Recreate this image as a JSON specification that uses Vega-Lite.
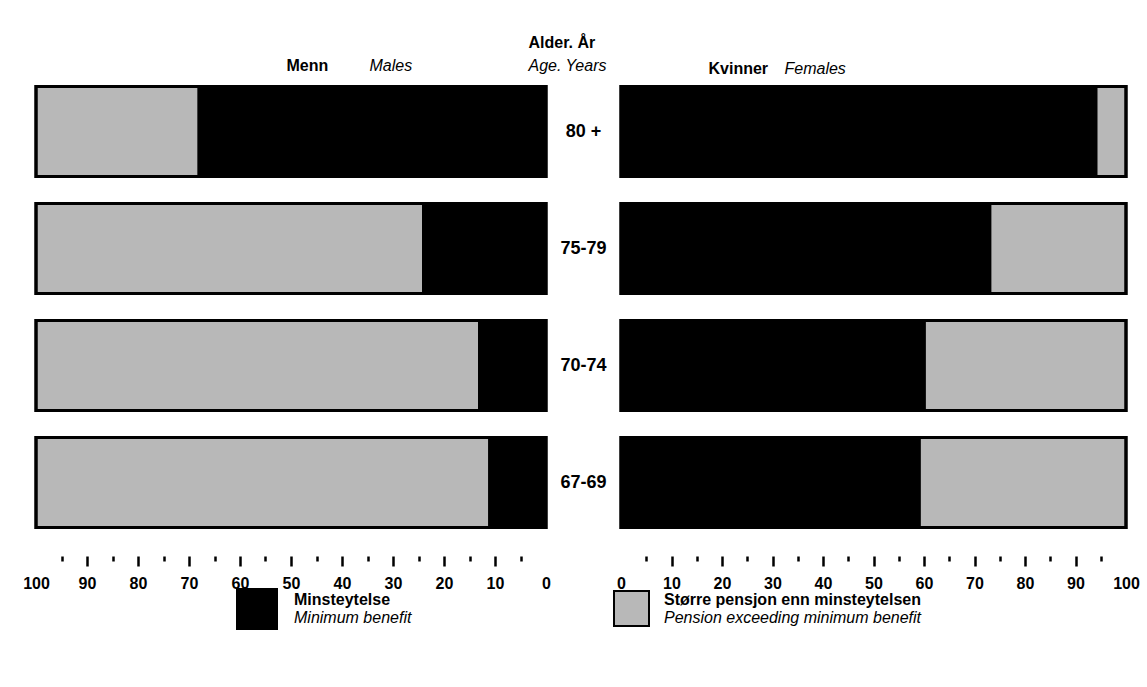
{
  "$schema": "https://vega.github.io/schema/vega-lite/v6.json",
  "padding": {"left": 22, "top": 34, "right": 0, "bottom": 0},
  "autosize": {"type": "pad"},
  "background": "white",
  "bounds": "flush",
  "spacing": 75,
  "datasets": {
    "men": [
      {"age": "80 +", "type": "Minsteytelse", "type_en": "Minimum benefit", "pct": 68},
      {"age": "80 +", "type": "Større pensjon enn minsteytelsen", "type_en": "Pension exceeding minimum benefit", "pct": 32},
      {"age": "75-79", "type": "Minsteytelse", "type_en": "Minimum benefit", "pct": 24},
      {"age": "75-79", "type": "Større pensjon enn minsteytelsen", "type_en": "Pension exceeding minimum benefit", "pct": 76},
      {"age": "70-74", "type": "Minsteytelse", "type_en": "Minimum benefit", "pct": 13},
      {"age": "70-74", "type": "Større pensjon enn minsteytelsen", "type_en": "Pension exceeding minimum benefit", "pct": 87},
      {"age": "67-69", "type": "Minsteytelse", "type_en": "Minimum benefit", "pct": 11},
      {"age": "67-69", "type": "Større pensjon enn minsteytelsen", "type_en": "Pension exceeding minimum benefit", "pct": 89}
    ],
    "women": [
      {"age": "80 +", "type": "Minsteytelse", "type_en": "Minimum benefit", "pct": 94},
      {"age": "80 +", "type": "Større pensjon enn minsteytelsen", "type_en": "Pension exceeding minimum benefit", "pct": 6},
      {"age": "75-79", "type": "Minsteytelse", "type_en": "Minimum benefit", "pct": 73},
      {"age": "75-79", "type": "Større pensjon enn minsteytelsen", "type_en": "Pension exceeding minimum benefit", "pct": 27},
      {"age": "70-74", "type": "Minsteytelse", "type_en": "Minimum benefit", "pct": 60},
      {"age": "70-74", "type": "Større pensjon enn minsteytelsen", "type_en": "Pension exceeding minimum benefit", "pct": 40},
      {"age": "67-69", "type": "Minsteytelse", "type_en": "Minimum benefit", "pct": 59},
      {"age": "67-69", "type": "Større pensjon enn minsteytelsen", "type_en": "Pension exceeding minimum benefit", "pct": 41}
    ]
  },
  "resolve": {
    "scale": {"x": "independent", "y": "independent", "fill": "independent", "stroke": "independent"},
    "legend": {"fill": "independent", "stroke": "independent"}
  },
  "hconcat": [
    {
      "width": 510,
      "height": 468,
      "data": {"name": "men"},
      "resolve": {"axis": {"x": "independent", "y": "independent"}},
      "layer": [
        {
          "mark": {"type": "bar", "stroke": "black", "strokeWidth": 3},
          "encoding": {
            "x": {
              "field": "pct", "type": "quantitative", "stack": "zero",
              "scale": {"domain": [0, 100], "reverse": true, "nice": false},
              "axis": {
                "orient": "bottom", "offset": 15, "domain": false, "grid": false,
                "values": [0, 5, 10, 15, 20, 25, 30, 35, 40, 45, 50, 55, 60, 65, 70, 75, 80, 85, 90, 95, 100],
                "labelExpr": "datum.value % 10 == 0 ? datum.label : ''",
                "labelFlush": false, "labelOverlap": false, "labelBound": false,
                "tickSize": {"condition": {"test": "datum.value % 10 == 0", "value": 10}, "value": 5},
                "tickOpacity": {"condition": {"test": "datum.value == 0 || datum.value == 100", "value": 0}, "value": 1},
                "tickWidth": 2.5, "tickColor": "black",
                "labelPadding": 9, "labelFontSize": 16, "labelFontWeight": "bold", "labelColor": "black",
                "title": "Menn", "titleFontSize": 16, "titleFontWeight": "bold", "titleColor": "black",
                "titleX": 250, "titleY": -491, "titleAlign": "left", "titleBaseline": "middle"
              }
            },
            "y": {
              "field": "age", "type": "nominal", "sort": ["80 +", "75-79", "70-74", "67-69"],
              "scale": {"paddingInner": 0.23, "paddingOuter": 0.115},
              "axis": {
                "orient": "right", "domain": false, "ticks": false, "tickSize": 0, "grid": false,
                "labelPadding": 37, "labelAlign": "center", "labelFontSize": 18, "labelFontWeight": "bold", "labelColor": "black",
                "title": "Alder. År", "titleAngle": 0, "titleFontSize": 16, "titleFontWeight": "bold", "titleColor": "black",
                "titleX": -18, "titleY": -31, "titleAlign": "left", "titleBaseline": "middle"
              }
            },
            "fill": {
              "field": "type", "type": "nominal",
              "scale": {"domain": ["Minsteytelse", "Større pensjon enn minsteytelsen"], "range": ["black", "#b8b8b8"]},
              "legend": {
                "orient": "none", "legendX": 200, "legendY": 515, "title": null, "padding": 0,
                "values": ["Minsteytelse"], "symbolType": "square", "symbolSize": 1600,
                "symbolStrokeColor": "black", "symbolStrokeWidth": 2,
                "labelBaseline": "line-bottom", "labelLineHeight": 22, "labelOffset": 16,
                "labelFontSize": 16, "labelFontWeight": "bold", "labelColor": "black", "labelLimit": 600
              }
            },
            "order": {"field": "type", "sort": "ascending"}
          }
        },
        {
          "mark": {"type": "bar", "filled": false, "strokeWidth": 3},
          "encoding": {
            "x": {
              "field": "pct", "type": "quantitative", "stack": "zero",
              "axis": {
                "orient": "top", "labels": false, "ticks": false, "domain": false, "grid": false,
                "title": "Males", "titleFontSize": 16, "titleFontWeight": "normal", "titleFontStyle": "italic", "titleColor": "black",
                "titleX": 333, "titleY": -8, "titleAlign": "left", "titleBaseline": "middle"
              }
            },
            "y": {
              "field": "age", "type": "nominal", "sort": ["80 +", "75-79", "70-74", "67-69"],
              "axis": {
                "orient": "right", "labels": false, "ticks": false, "domain": false, "grid": false,
                "title": "Age. Years", "titleAngle": 0, "titleFontSize": 16, "titleFontWeight": "normal", "titleFontStyle": "italic", "titleColor": "black",
                "titleX": -18, "titleY": -8, "titleAlign": "left", "titleBaseline": "middle"
              }
            },
            "stroke": {
              "field": "type_en", "type": "nominal",
              "scale": {"domain": ["Minimum benefit", "Pension exceeding minimum benefit"], "range": ["black", "black"]},
              "legend": {
                "orient": "none", "legendX": 200, "legendY": 515, "title": null, "padding": 0,
                "values": ["Minimum benefit"], "symbolType": "square", "symbolSize": 1600, "symbolStrokeWidth": 2,
                "labelBaseline": "line-top", "labelLineHeight": 20, "labelOffset": 16,
                "labelFontSize": 16, "labelFontStyle": "italic", "labelColor": "black", "labelLimit": 600
              }
            },
            "order": {"field": "type_en", "sort": "ascending"}
          }
        }
      ]
    },
    {
      "width": 505,
      "height": 468,
      "data": {"name": "women"},
      "resolve": {"axis": {"x": "independent", "y": "independent"}},
      "layer": [
        {
          "mark": {"type": "bar", "stroke": "black", "strokeWidth": 3},
          "encoding": {
            "x": {
              "field": "pct", "type": "quantitative", "stack": "zero",
              "scale": {"domain": [0, 100], "nice": false},
              "axis": {
                "orient": "bottom", "offset": 15, "domain": false, "grid": false,
                "values": [0, 5, 10, 15, 20, 25, 30, 35, 40, 45, 50, 55, 60, 65, 70, 75, 80, 85, 90, 95, 100],
                "labelExpr": "datum.value % 10 == 0 ? datum.label : ''",
                "labelFlush": false, "labelOverlap": false, "labelBound": false,
                "tickSize": {"condition": {"test": "datum.value % 10 == 0", "value": 10}, "value": 5},
                "tickOpacity": {"condition": {"test": "datum.value == 0 || datum.value == 100", "value": 0}, "value": 1},
                "tickWidth": 2.5, "tickColor": "black",
                "labelPadding": 9, "labelFontSize": 16, "labelFontWeight": "bold", "labelColor": "black",
                "title": "Kvinner", "titleFontSize": 16, "titleFontWeight": "bold", "titleColor": "black",
                "titleX": 87, "titleY": -488, "titleAlign": "left", "titleBaseline": "middle"
              }
            },
            "y": {
              "field": "age", "type": "nominal", "sort": ["80 +", "75-79", "70-74", "67-69"],
              "scale": {"paddingInner": 0.23, "paddingOuter": 0.115},
              "axis": null
            },
            "fill": {
              "field": "type", "type": "nominal",
              "scale": {"domain": ["Minsteytelse", "Større pensjon enn minsteytelsen"], "range": ["black", "#b8b8b8"]},
              "legend": {
                "orient": "none", "legendX": -8, "legendY": 517, "title": null, "padding": 0,
                "values": ["Større pensjon enn minsteytelsen"], "symbolType": "square", "symbolSize": 1225,
                "symbolStrokeColor": "black", "symbolStrokeWidth": 2,
                "labelBaseline": "line-bottom", "labelLineHeight": 22, "labelOffset": 14,
                "labelFontSize": 16, "labelFontWeight": "bold", "labelColor": "black", "labelLimit": 600
              }
            },
            "order": {"field": "type", "sort": "ascending"}
          }
        },
        {
          "mark": {"type": "bar", "filled": false, "strokeWidth": 3},
          "encoding": {
            "x": {
              "field": "pct", "type": "quantitative", "stack": "zero",
              "axis": {
                "orient": "top", "labels": false, "ticks": false, "domain": false, "grid": false,
                "title": "Females", "titleFontSize": 16, "titleFontWeight": "normal", "titleFontStyle": "italic", "titleColor": "black",
                "titleX": 163, "titleY": -5, "titleAlign": "left", "titleBaseline": "middle"
              }
            },
            "y": {
              "field": "age", "type": "nominal", "sort": ["80 +", "75-79", "70-74", "67-69"],
              "axis": null
            },
            "stroke": {
              "field": "type_en", "type": "nominal",
              "scale": {"domain": ["Minimum benefit", "Pension exceeding minimum benefit"], "range": ["black", "black"]},
              "legend": {
                "orient": "none", "legendX": -8, "legendY": 517, "title": null, "padding": 0,
                "values": ["Pension exceeding minimum benefit"], "symbolType": "square", "symbolSize": 1225, "symbolStrokeWidth": 2,
                "labelBaseline": "line-top", "labelLineHeight": 20, "labelOffset": 14,
                "labelFontSize": 16, "labelFontStyle": "italic", "labelColor": "black", "labelLimit": 600
              }
            },
            "order": {"field": "type_en", "sort": "ascending"}
          }
        }
      ]
    }
  ],
  "config": {
    "font": "Liberation Sans",
    "view": {"stroke": null},
    "axis": {"labelColor": "black", "titleColor": "black"},
    "legend": {"labelColor": "black"}
  }
}
